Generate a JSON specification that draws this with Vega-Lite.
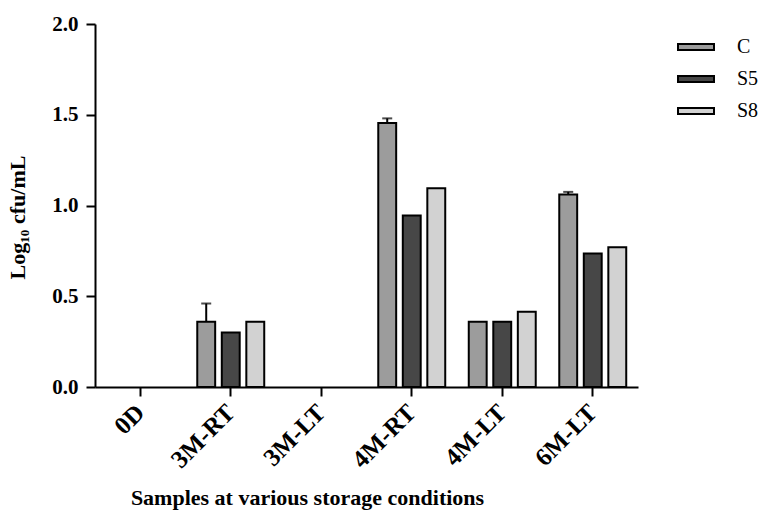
{
  "$schema": "https://vega.github.io/schema/vega-lite/v6.json",
  "width": 543,
  "height": 363,
  "autosize": "none",
  "padding": {"left": 95, "top": 24, "right": 128, "bottom": 129},
  "background": "white",
  "config": {
    "view": {"stroke": null},
    "font": "Liberation Serif",
    "axis": {
      "domainColor": "black",
      "domainWidth": 2,
      "tickColor": "black",
      "tickWidth": 2,
      "grid": false,
      "labelFont": "Liberation Serif",
      "labelFontWeight": "bold",
      "labelFontSize": 21,
      "labelColor": "black",
      "titleFont": "Liberation Serif",
      "titleFontWeight": "bold",
      "titleFontSize": 22,
      "titleColor": "black"
    }
  },
  "data": {
    "values": [
      {"cond": "3M-RT", "series": "C", "value": 0.36, "hi": 0.46},
      {"cond": "3M-RT", "series": "S5", "value": 0.30, "hi": null},
      {"cond": "3M-RT", "series": "S8", "value": 0.36, "hi": null},
      {"cond": "4M-RT", "series": "C", "value": 1.455, "hi": 1.48},
      {"cond": "4M-RT", "series": "S5", "value": 0.945, "hi": null},
      {"cond": "4M-RT", "series": "S8", "value": 1.095, "hi": null},
      {"cond": "4M-LT", "series": "C", "value": 0.36, "hi": null},
      {"cond": "4M-LT", "series": "S5", "value": 0.36, "hi": null},
      {"cond": "4M-LT", "series": "S8", "value": 0.415, "hi": null},
      {"cond": "6M-LT", "series": "C", "value": 1.06, "hi": 1.075},
      {"cond": "6M-LT", "series": "S5", "value": 0.735, "hi": null},
      {"cond": "6M-LT", "series": "S8", "value": 0.77, "hi": null}
    ]
  },
  "encoding": {
    "x": {
      "field": "cond",
      "type": "nominal",
      "scale": {"domain": ["0D", "3M-RT", "3M-LT", "4M-RT", "4M-LT", "6M-LT"], "paddingInner": 0.26, "paddingOuter": 0.13},
      "title": "Samples at various storage conditions",
      "axis": {
        "labelAngle": -45,
        "labelAlign": "right",
        "labelBaseline": "middle",
        "labelFontSize": 25,
        "tickSize": 9,
        "labelPadding": 12,
        "titleX": 212,
        "titleY": 117,
        "titleBaseline": "alphabetic",
        "titleAnchor": "middle"
      }
    },
    "xOffset": {"field": "series", "type": "nominal", "scale": {"domain": ["C", "S5", "S8"], "paddingInner": 0.27}}
  },
  "layer": [
    {
      "mark": {"type": "bar", "stroke": "black", "strokeWidth": 2},
      "encoding": {
        "y": {
          "field": "value",
          "type": "quantitative",
          "scale": {"domain": [0, 2]},
          "title": "Log₁₀ cfu/mL",
          "axis": {
            "values": [0, 0.5, 1, 1.5, 2],
            "format": ".1f",
            "tickSize": 9,
            "labelPadding": 8,
            "titleX": -78,
            "titleY": 193,
            "titleAlign": "center",
            "titleBaseline": "middle",
            "titleAngle": -90
          }
        },
        "color": {
          "field": "series",
          "type": "nominal",
          "scale": {"domain": ["C", "S5", "S8"], "range": ["#9c9c9c", "#474747", "#d2d2d2"]},
          "legend": {
            "orient": "none",
            "legendX": 582,
            "legendY": 4,
            "title": null,
            "padding": 0,
            "symbolType": "M-1,-0.17H1V0.17H-1Z",
            "symbolSize": 1296,
            "symbolStrokeColor": "black",
            "symbolStrokeWidth": 2,
            "symbolOpacity": 1,
            "labelFont": "Liberation Serif",
            "labelFontSize": 20,
            "labelColor": "black",
            "labelOffset": 22,
            "rowPadding": 3
          }
        }
      }
    },
    {
      "transform": [{"filter": "datum.hi != null"}],
      "mark": {"type": "rule", "strokeWidth": 2, "color": "black"},
      "encoding": {
        "y": {"field": "value", "type": "quantitative"},
        "y2": {"field": "hi"}
      }
    },
    {
      "transform": [{"filter": "datum.hi != null"}],
      "mark": {"type": "tick", "thickness": 2, "size": 10, "color": "black"},
      "encoding": {
        "y": {"field": "hi", "type": "quantitative"}
      }
    }
  ]
}
